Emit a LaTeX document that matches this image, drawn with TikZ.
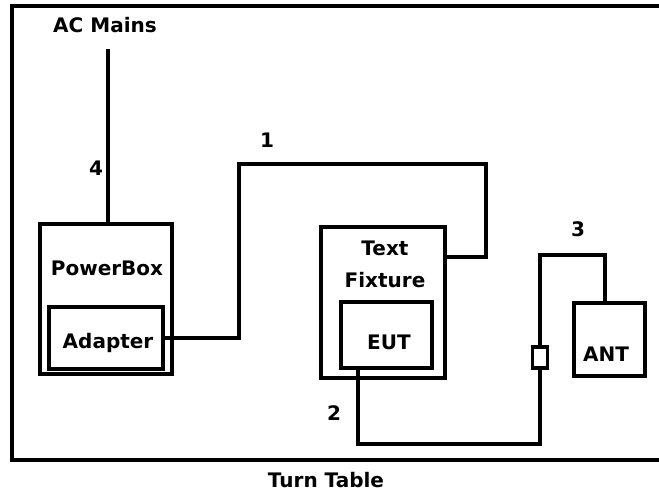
\documentclass[tikz,border=0pt]{standalone}
\usepackage{fontspec}
\setmainfont{DejaVu Sans}
\usepackage{tikz}
\usetikzlibrary{positioning}

\begin{document}
\begin{tikzpicture}[
    x=1pt, y=-1pt,
    line width=3.5pt,
    every node/.style={font=\fontsize{20}{24}\selectfont\bfseries},
    box/.style={rectangle, draw=black, line width=3.5pt, inner sep=0pt},
    txt/.style={inner sep=0pt},
    cable/.style={line width=3.5pt, line join=miter}
]
\useasboundingbox (0,0) rectangle (659,494);

% turn table frame (open on the right)
\draw (662,6) -- (12,6) -- (12,460) -- (662,460);
\node (mains) [txt] at (105,25) {AC Mains};
\node (table) [txt] at (326,480) {Turn Table};

% boxes
\node (pbox) [box, minimum width=132, minimum height=150] at (106,299) {};
\node (pboxtxt) [txt] at (107,268) {PowerBox};
\node (adapter) [box, minimum width=114, minimum height=62] at (106,338) {};
\node (adaptertxt) [txt] at (108,343) {Adapter};

\node (fixture) [box, minimum width=124, minimum height=151] at (383,302.5) {};
\node (fixtxt) [txt, align=center, font=\fontsize{20}{32}\selectfont\bfseries] at (385,264) {Text\\Fixture};
\node (eut) [box, minimum width=91, minimum height=66] at (386.5,335) {};
\node (euttxt) [txt] at (389,342) {EUT};

\node (ant) [box, minimum width=71, minimum height=73] at (609.5,339.5) {};
\node (anttxt) [txt] at (606,354) {ANT};
\node (conn) [box, minimum width=15, minimum height=21] at (540,357.5) {};

% cables
\coordinate (top) at (108,49);
\draw [cable] (top) -- (pbox.north -| top);
\draw [cable] (adapter.east) -| (239,164) -| (486,257) -- (fixture.east |- 486,257);
\draw [cable] (eut.south -| 358,0) |- (conn.south |- 0,444) -- (conn.south);
\draw [cable] (conn.north) |- (605,255) -- (ant.north -| 605,0);

% cable numbers
\node (n1) [txt] at (267,140) {1};
\node (n2) [txt] at (334,413) {2};
\node (n3) [txt] at (578,229) {3};
\node (n4) [txt] at (96,168) {4};
\end{tikzpicture}
\end{document}
